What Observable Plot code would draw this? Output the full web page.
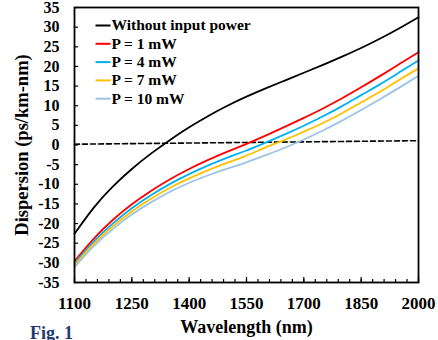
<!DOCTYPE html>
<html>
<head>
<meta charset="utf-8">
<script src="https://cdn.jsdelivr.net/npm/d3@7"></script>
<script src="https://cdn.jsdelivr.net/npm/@observablehq/plot@0.6"></script>
<style>
  html, body { margin: 0; padding: 0; background: #fff; }
  #chart { position: relative; width: 438px; height: 340px; overflow: hidden; }
  #chart svg text { font-family: "Liberation Serif", "Times New Roman", serif; }
  #fig { position: absolute; left: 30px; top: 323px; font: bold 18px "Liberation Serif", "Times New Roman", serif; color: #1f3a70; }
</style>
</head>
<body>
<div id="chart"><div id="fig">Fig. 1</div></div>
<script>
// Wavelength grid (nm)
const wavelength = [1100, 1150, 1200, 1250, 1300, 1350, 1400, 1450, 1500, 1550,
                    1600, 1650, 1700, 1750, 1800, 1850, 1900, 1950, 2000];

// Dispersion (ps/km-nm) for each case
const noPower = [-22.6, -16.0, -10.6, -6.1, -2.2, 1.3, 4.5, 7.4, 10.0, 12.3,
                 14.4, 16.4, 18.4, 20.4, 22.5, 24.7, 27.1, 29.7, 32.5];
const p1mW  = [-29.6, -23.9, -19.1, -15.1, -11.7, -8.7, -6.1, -3.8, -1.7, 0.3,
               2.4, 4.6, 6.9, 9.3, 11.9, 14.7, 17.6, 20.6, 23.6];
const p4mW  = [-30.2, -24.6, -20.0, -16.1, -12.8, -9.9, -7.4, -5.2, -3.2, -1.4,
               0.6, 2.7, 4.9, 7.3, 9.9, 12.7, 15.5, 18.5, 21.5];
const p7mW  = [-30.6, -25.2, -20.7, -16.9, -13.7, -10.9, -8.5, -6.4, -4.5, -2.7,
               -0.6, 1.3, 3.4, 5.6, 8.1, 10.8, 13.6, 16.6, 19.5];
const p10mW = [-31.1, -25.8, -21.4, -17.7, -14.6, -11.9, -9.6, -7.7, -6.0, -4.4,
               -2.6, -0.7, 1.4, 3.7, 6.2, 8.9, 11.7, 14.6, 17.6];

// Near-zero reference (dashed)
const refWavelength = [1100, 2000];
const refDispersion = [0.2, 1.1];

const seriesNames  = ["Without input power", "P = 1 mW", "P = 4 mW", "P = 7 mW", "P = 10 mW"];
const seriesValues = [noPower, p1mW, p4mW, p7mW, p10mW];
const seriesColors = ["#000000", "#ff0000", "#00b0f0", "#ffc000", "#9dc3e6"];

const xTickLabels = [1100, 1250, 1400, 1550, 1700, 1850, 2000];
const yTickLabels = [-35, -30, -25, -20, -15, -10, -5, 0, 5, 10, 15, 20, 25, 30, 35];
const xMinorTicks = d3.range(1100, 2001, 30);

const rows = seriesNames.flatMap((name, s) =>
  seriesValues[s].map((v, i) => ({series: name, wavelength: wavelength[i], dispersion: v})));
const refRows = refWavelength.map((w, i) => ({wavelength: w, dispersion: refDispersion[i]}));

const W = 438, H = 340, mL = 74, mR = 20, mT = 7, mB = 58;
const innerW = W - mL - mR, innerH = H - mT - mB;
const serif = '"Liberation Serif", "Times New Roman", serif';

// short horizontal stroke used as legend swatch
const dash = {draw(ctx) { ctx.moveTo(-7.5, 0); ctx.lineTo(7.5, 0); }};

const legendMarks = seriesNames.flatMap((name, i) => [
  Plot.dot([name], {frameAnchor: "top-left", dx: 28.5, dy: 18 + i * 18.3,
    symbol: dash, fill: "none", stroke: seriesColors[i], strokeWidth: 2}),
  Plot.text([name], {frameAnchor: "top-left", dx: 37, dy: 18 + i * 18.3, text: d => d,
    textAnchor: "start", lineAnchor: "middle", fontFamily: serif,
    fontSize: 15.5, fontWeight: "bold", fill: "#000"})
]);

const chart = Plot.plot({
  width: W, height: H,
  marginLeft: mL, marginRight: mR, marginTop: mT, marginBottom: mB,
  style: {fontFamily: serif, background: "white", color: "#000"},
  x: {domain: [1100, 2000]},
  y: {domain: [-35, 35]},
  color: {domain: seriesNames, range: seriesColors},
  marks: [
    Plot.axisX({ticks: xTickLabels, tickSize: 0, tickPadding: 14, tickFormat: d => String(d),
      fontFamily: serif, fontSize: 17, fontWeight: "bold", label: null}),
    Plot.axisY({ticks: yTickLabels, tickSize: 0, tickPadding: 15, tickFormat: d => String(d),
      fontFamily: serif, fontSize: 16, fontWeight: "bold", label: null}),
    Plot.ruleX(xMinorTicks, {x: d => d, insetTop: innerH - 3, stroke: "#000", strokeWidth: 1.2}),
    Plot.ruleX(xTickLabels, {x: d => d, insetTop: innerH - 5, stroke: "#000", strokeWidth: 1.2}),
    Plot.ruleY(yTickLabels, {y: d => d, insetRight: innerW - 4, stroke: "#000", strokeWidth: 1.2}),
    Plot.line(refRows, {x: "wavelength", y: "dispersion", stroke: "#000", strokeWidth: 1.6,
      strokeDasharray: "5,3"}),
    Plot.line(rows, {x: "wavelength", y: "dispersion", z: "series", stroke: "series",
      curve: "natural", strokeWidth: 1.8}),
    Plot.frame({stroke: "#000", strokeWidth: 1.8}),
    ...legendMarks,
    Plot.text(["Wavelength (nm)"], {frameAnchor: "bottom", dy: 45, text: d => d,
      textAnchor: "middle", lineAnchor: "middle", fontFamily: serif,
      fontSize: 18, fontWeight: "bold", fill: "#000"}),
    Plot.text(["Dispersion (ps/km-nm)"], {frameAnchor: "left", dx: -52, rotate: -90, text: d => d,
      textAnchor: "middle", lineAnchor: "middle", fontFamily: serif,
      fontSize: 18.5, fontWeight: "bold", fill: "#000"})
  ]
});

document.getElementById("chart").prepend(chart);
</script>
</body>
</html>
